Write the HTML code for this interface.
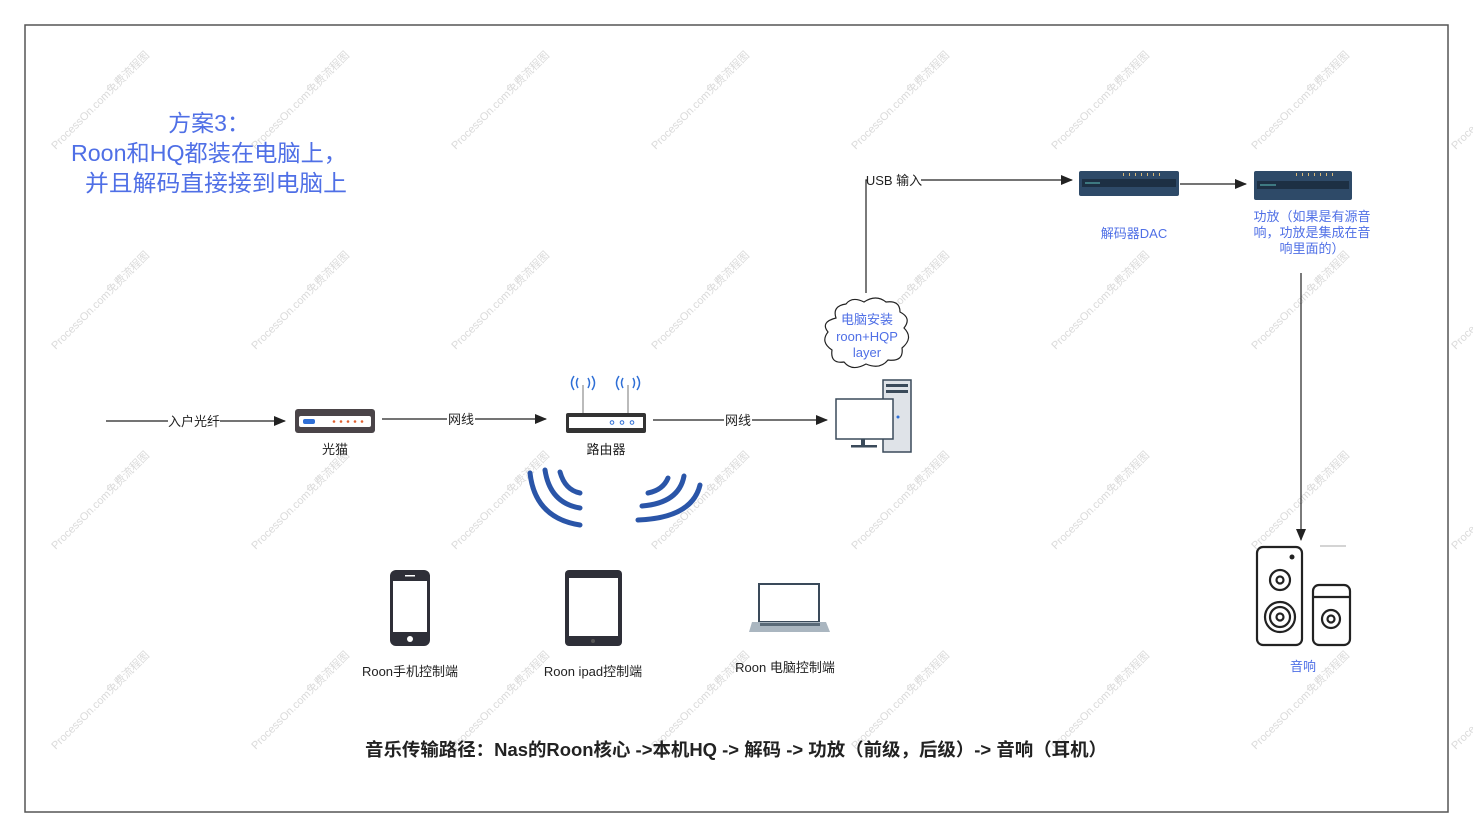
<!DOCTYPE html>
<html><head><meta charset="utf-8"><style>
html,body{margin:0;padding:0;background:#fff;}
svg{display:block;font-family:"Liberation Sans","Noto Sans CJK SC",sans-serif;}
</style></head><body>
<svg width="1473" height="838" viewBox="0 0 1473 838" xmlns="http://www.w3.org/2000/svg">
<defs>
<marker id="ar" markerWidth="12" markerHeight="10" refX="11" refY="5" orient="auto" markerUnits="userSpaceOnUse">
<path d="M0,0 L12,5 L0,10 Z" fill="#222"/></marker>
</defs>
<rect x="25" y="25" width="1423" height="787" fill="#fff" stroke="#555" stroke-width="1.5"/>

<!-- watermarks -->
<g fill="#dadada" font-size="11" text-anchor="middle">
<g transform="translate(100,100) rotate(-45)"><text y="4">ProcessOn.com免费流程图</text></g>
<g transform="translate(300,100) rotate(-45)"><text y="4">ProcessOn.com免费流程图</text></g>
<g transform="translate(500,100) rotate(-45)"><text y="4">ProcessOn.com免费流程图</text></g>
<g transform="translate(700,100) rotate(-45)"><text y="4">ProcessOn.com免费流程图</text></g>
<g transform="translate(900,100) rotate(-45)"><text y="4">ProcessOn.com免费流程图</text></g>
<g transform="translate(1100,100) rotate(-45)"><text y="4">ProcessOn.com免费流程图</text></g>
<g transform="translate(1300,100) rotate(-45)"><text y="4">ProcessOn.com免费流程图</text></g>
<g transform="translate(1500,100) rotate(-45)"><text y="4">ProcessOn.com免费流程图</text></g>
<g transform="translate(100,300) rotate(-45)"><text y="4">ProcessOn.com免费流程图</text></g>
<g transform="translate(300,300) rotate(-45)"><text y="4">ProcessOn.com免费流程图</text></g>
<g transform="translate(500,300) rotate(-45)"><text y="4">ProcessOn.com免费流程图</text></g>
<g transform="translate(700,300) rotate(-45)"><text y="4">ProcessOn.com免费流程图</text></g>
<g transform="translate(900,300) rotate(-45)"><text y="4">ProcessOn.com免费流程图</text></g>
<g transform="translate(1100,300) rotate(-45)"><text y="4">ProcessOn.com免费流程图</text></g>
<g transform="translate(1300,300) rotate(-45)"><text y="4">ProcessOn.com免费流程图</text></g>
<g transform="translate(1500,300) rotate(-45)"><text y="4">ProcessOn.com免费流程图</text></g>
<g transform="translate(100,500) rotate(-45)"><text y="4">ProcessOn.com免费流程图</text></g>
<g transform="translate(300,500) rotate(-45)"><text y="4">ProcessOn.com免费流程图</text></g>
<g transform="translate(500,500) rotate(-45)"><text y="4">ProcessOn.com免费流程图</text></g>
<g transform="translate(700,500) rotate(-45)"><text y="4">ProcessOn.com免费流程图</text></g>
<g transform="translate(900,500) rotate(-45)"><text y="4">ProcessOn.com免费流程图</text></g>
<g transform="translate(1100,500) rotate(-45)"><text y="4">ProcessOn.com免费流程图</text></g>
<g transform="translate(1300,500) rotate(-45)"><text y="4">ProcessOn.com免费流程图</text></g>
<g transform="translate(1500,500) rotate(-45)"><text y="4">ProcessOn.com免费流程图</text></g>
<g transform="translate(100,700) rotate(-45)"><text y="4">ProcessOn.com免费流程图</text></g>
<g transform="translate(300,700) rotate(-45)"><text y="4">ProcessOn.com免费流程图</text></g>
<g transform="translate(500,700) rotate(-45)"><text y="4">ProcessOn.com免费流程图</text></g>
<g transform="translate(700,700) rotate(-45)"><text y="4">ProcessOn.com免费流程图</text></g>
<g transform="translate(900,700) rotate(-45)"><text y="4">ProcessOn.com免费流程图</text></g>
<g transform="translate(1100,700) rotate(-45)"><text y="4">ProcessOn.com免费流程图</text></g>
<g transform="translate(1300,700) rotate(-45)"><text y="4">ProcessOn.com免费流程图</text></g>
<g transform="translate(1500,700) rotate(-45)"><text y="4">ProcessOn.com免费流程图</text></g>
</g>

<!-- title -->
<g fill="#4f6fe6" font-size="23" text-anchor="middle">
<text x="209" y="131">方案3：</text>
<text x="209" y="161" textLength="276" lengthAdjust="spacingAndGlyphs">Roon和HQ都装在电脑上，</text>
<text x="216" y="191" textLength="262" lengthAdjust="spacingAndGlyphs">并且解码直接接到电脑上</text>
</g>

<!-- connectors -->
<g stroke="#222" stroke-width="1.2" fill="none">
<line x1="106" y1="421" x2="285" y2="421" marker-end="url(#ar)"/>
<line x1="382" y1="419" x2="546" y2="419" marker-end="url(#ar)"/>
<line x1="653" y1="420" x2="827" y2="420" marker-end="url(#ar)"/>
<polyline points="866,293 866,180 1072,180" marker-end="url(#ar)"/>
<line x1="1180" y1="184" x2="1246" y2="184" marker-end="url(#ar)"/>
<line x1="1301" y1="273" x2="1301" y2="540" marker-end="url(#ar)"/>
</g>
<g font-size="13" fill="#222" text-anchor="middle">
<rect x="168" y="413" width="52" height="16" fill="#fff"/><text x="194" y="426">入户光纤</text>
<rect x="447" y="411" width="28" height="16" fill="#fff"/><text x="461" y="424">网线</text>
<rect x="724" y="412" width="28" height="16" fill="#fff"/><text x="738" y="425">网线</text>
<rect x="867" y="172" width="54" height="16" fill="#fff"/><text x="894" y="185">USB 输入</text>
</g>

<!-- modem -->
<rect x="295" y="409" width="80" height="24" rx="3" fill="#4a4448"/>
<rect x="299" y="416" width="72" height="11" rx="2" fill="#fff"/>
<rect x="303" y="419" width="12" height="5" rx="2" fill="#2f6fd6"/>
<g fill="#e06030"><circle cx="334" cy="421.5" r="1.3"/><circle cx="341" cy="421.5" r="1.3"/><circle cx="348" cy="421.5" r="1.3"/><circle cx="355" cy="421.5" r="1.3"/><circle cx="362" cy="421.5" r="1.3"/></g>
<text x="335" y="454" font-size="13" fill="#222" text-anchor="middle">光猫</text>

<!-- router -->
<line x1="583" y1="385" x2="583" y2="413" stroke="#bbb" stroke-width="2"/>
<line x1="628" y1="385" x2="628" y2="413" stroke="#bbb" stroke-width="2"/>
<g stroke="#2f6fd6" stroke-width="1.5" fill="none">
<path d="M578,378 q-3,5 0,10 M588,378 q3,5 0,10 M574,376 q-5,7 0,14 M592,376 q5,7 0,14"/>
<path d="M623,378 q-3,5 0,10 M633,378 q3,5 0,10 M619,376 q-5,7 0,14 M637,376 q5,7 0,14"/>
</g>
<rect x="566" y="413" width="80" height="20" rx="2" fill="#333"/>
<rect x="569" y="417" width="74" height="11" fill="#fff"/>
<g fill="none" stroke="#2f6fd6" stroke-width="1"><circle cx="612" cy="422.5" r="1.8"/><circle cx="622" cy="422.5" r="1.8"/><circle cx="632" cy="422.5" r="1.8"/></g>
<text x="606" y="454" font-size="13" fill="#222" text-anchor="middle">路由器</text>

<!-- wifi waves -->
<g stroke="#2a55a8" stroke-width="5" fill="none" stroke-linecap="round">
<path d="M560,472 Q565,490 580,493"/>
<path d="M545,470 Q550,503 580,508"/>
<path d="M530,473 Q535,518 580,525"/>
<path d="M668,478 Q663,490 648,493"/>
<path d="M684,476 Q679,503 642,506"/>
<path d="M700,485 Q692,518 638,520"/>
</g>

<!-- PC -->
<rect x="883" y="380" width="28" height="72" fill="#dfe3e8" stroke="#3a4a5a" stroke-width="1.5"/>
<rect x="886" y="384" width="22" height="3" fill="#3a4a5a"/>
<rect x="886" y="390" width="22" height="3" fill="#3a4a5a"/>
<circle cx="898" cy="417" r="1.5" fill="#2f6fd6"/>
<rect x="836" y="399" width="57" height="40" fill="#fff" stroke="#3a4a5a" stroke-width="1.5"/>
<rect x="861" y="439" width="4" height="6" fill="#3a4a5a"/>
<rect x="851" y="445" width="26" height="2.5" fill="#3a4a5a"/>

<!-- cloud -->
<path d="M836,318 q-4,-12 10,-14 q6,-8 18,-2 q12,-8 22,0 q14,-2 14,10 q12,6 4,16 q10,10 -2,20 q2,14 -14,12 q-8,10 -22,4 q-14,8 -22,-2 q-14,2 -12,-12 q-12,-8 -4,-18 q-8,-10 8,-14 z" fill="#fff" stroke="#222" stroke-width="1.2"/>
<g font-size="13" fill="#4f6fe6" text-anchor="middle">
<text x="867" y="324">电脑安装</text>
<text x="867" y="341">roon+HQP</text>
<text x="867" y="357">layer</text>
</g>

<!-- DAC -->
<rect x="1079" y="171" width="100" height="25" rx="2" fill="#2e4a68"/>
<rect x="1082" y="179" width="94" height="8" fill="#1d3044"/>
<line x1="1085" y1="183" x2="1100" y2="183" stroke="#5aa" stroke-width="1.2"/>
<g fill="#d8b878"><rect x="1123" y="173" width="1" height="3"/><rect x="1129" y="173" width="1" height="3"/><rect x="1135" y="173" width="1" height="3"/><rect x="1141" y="173" width="1" height="3"/><rect x="1147" y="173" width="1" height="3"/><rect x="1153" y="173" width="1" height="3"/><rect x="1159" y="173" width="1" height="3"/></g>
<text x="1134" y="238" font-size="13" fill="#4f6fe6" text-anchor="middle">解码器DAC</text>

<!-- amp -->
<rect x="1254" y="171" width="98" height="29" rx="2" fill="#2e4a68"/>
<rect x="1257" y="181" width="92" height="8" fill="#1d3044"/>
<line x1="1260" y1="185" x2="1276" y2="185" stroke="#5aa" stroke-width="1.2"/>
<g fill="#d8b878"><rect x="1296" y="173" width="1" height="3"/><rect x="1302" y="173" width="1" height="3"/><rect x="1308" y="173" width="1" height="3"/><rect x="1314" y="173" width="1" height="3"/><rect x="1320" y="173" width="1" height="3"/><rect x="1326" y="173" width="1" height="3"/><rect x="1332" y="173" width="1" height="3"/></g>
<g font-size="13" fill="#4f6fe6" text-anchor="middle">
<text x="1312" y="221">功放（如果是有源音</text>
<text x="1312" y="237">响，功放是集成在音</text>
<text x="1312" y="253">响里面的）</text>
</g>

<!-- speakers -->
<g stroke="#222" stroke-width="2.2" fill="none">
<rect x="1257" y="547" width="45" height="98" rx="6"/>
<circle cx="1280" cy="580" r="10"/><circle cx="1280" cy="580" r="3.5"/>
<circle cx="1280" cy="617" r="15"/><circle cx="1280" cy="617" r="10"/><circle cx="1280" cy="617" r="3.5"/>
<rect x="1313" y="585" width="37" height="60" rx="6"/>
<line x1="1313" y1="597" x2="1350" y2="597"/>
<circle cx="1331" cy="619" r="9"/><circle cx="1331" cy="619" r="3.5"/>
</g>
<circle cx="1292" cy="557" r="2.5" fill="#222"/>
<line x1="1320" y1="546" x2="1346" y2="546" stroke="#aaa"/>
<text x="1303" y="671" font-size="13" fill="#4f6fe6" text-anchor="middle">音响</text>

<!-- phone -->
<rect x="390" y="570" width="40" height="76" rx="6" fill="#2e2f38"/>
<rect x="393" y="581" width="34" height="51" fill="#fff"/>
<circle cx="410" cy="639" r="3" fill="#fff"/>
<rect x="405" y="575" width="10" height="1.5" fill="#fff"/>
<text x="410" y="676" font-size="13" fill="#222" text-anchor="middle">Roon手机控制端</text>

<!-- ipad -->
<rect x="565" y="570" width="57" height="76" rx="4" fill="#2e2f38"/>
<rect x="569" y="578" width="49" height="58" fill="#fff"/>
<circle cx="593" cy="641" r="2" fill="#555"/>
<text x="593" y="676" font-size="13" fill="#222" text-anchor="middle">Roon ipad控制端</text>

<!-- laptop -->
<rect x="759" y="584" width="60" height="38" fill="#fff" stroke="#3a4a5a" stroke-width="2"/>
<path d="M752,622 L826,622 L830,632 L749,632 Z" fill="#aab6c0"/>
<rect x="760" y="623" width="60" height="3" fill="#5a6a78"/>
<text x="785" y="672" font-size="13" fill="#222" text-anchor="middle">Roon 电脑控制端</text>

<!-- bottom path -->
<text x="736" y="756" font-size="18" font-weight="bold" fill="#222" text-anchor="middle" textLength="742" lengthAdjust="spacingAndGlyphs">音乐传输路径：Nas的Roon核心 -&gt;本机HQ -&gt; 解码 -&gt; 功放（前级，后级）-&gt; 音响（耳机）</text>
</svg>
</body></html>
